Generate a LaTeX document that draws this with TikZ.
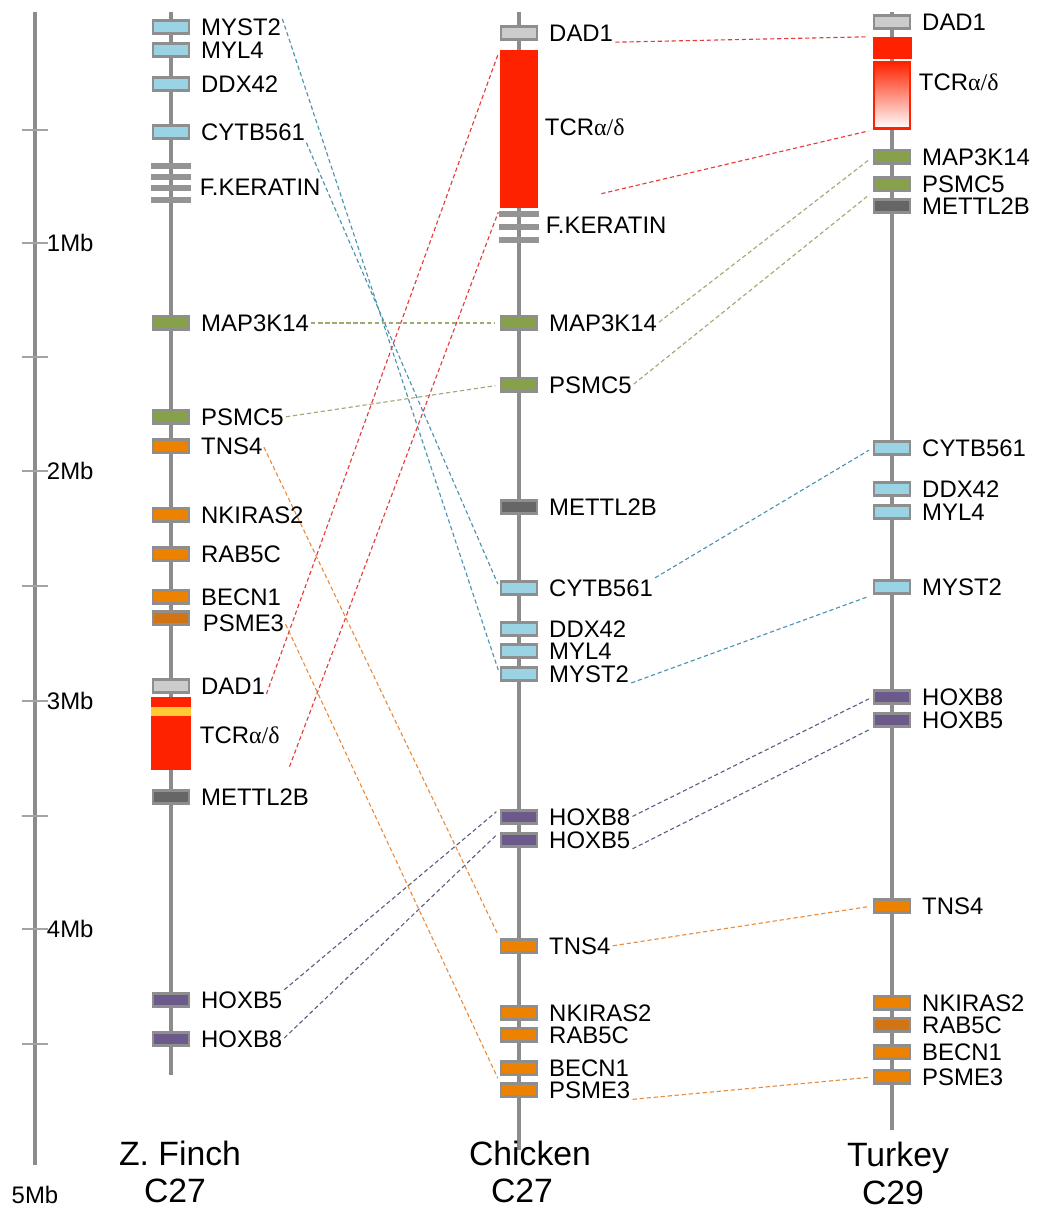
\documentclass[tikz,border=0pt]{standalone}
\usepackage{fontspec}
\setmainfont{Liberation Sans}
\newfontfamily\greekserif{Liberation Serif}
\usetikzlibrary{positioning}

\definecolor{axisgray}{HTML}{8C8C8C}
\definecolor{boxgray}{HTML}{8E8E8E}
\definecolor{gblue}{HTML}{9AD3E4}
\definecolor{ggreen}{HTML}{87A04A}
\definecolor{gorange}{HTML}{EC8200}
\definecolor{gdkorange}{HTML}{D37414}
\definecolor{gpurple}{HTML}{6C5A8C}
\definecolor{gdark}{HTML}{666666}
\definecolor{glight}{HTML}{CCCCCC}
\definecolor{tcred}{HTML}{FF2200}
\definecolor{tcyellow}{HTML}{FFC933}
\definecolor{lblue}{HTML}{4A92AE}
\definecolor{lred}{HTML}{E43B3B}
\definecolor{lgreen}{HTML}{9DAA70}
\definecolor{lorange}{HTML}{EA8C3E}
\definecolor{lpurple}{HTML}{5E5E86}

\tikzset{
  chrom/.style={line width=2.8pt, color=axisgray},
  tickmark/.style={line width=1pt, color=axisgray!80},
  gene/.style={draw=boxgray, line width=2pt, minimum width=0.9cm, minimum height=0.33cm, inner sep=0pt},
  kbar/.style={fill=boxgray!95, minimum width=0.975cm, minimum height=0.15cm, inner sep=0pt},
  tcr/.style={fill=tcred, minimum width=0.975cm, inner sep=0pt},
  glabel/.style={inner sep=0.5pt, anchor=west, font=\fontsize{17}{19}\selectfont},
  species/.style={inner sep=0pt, font=\fontsize{24}{28}\selectfont},
  lnk/.style={draw=#1, line width=0.8pt, dash pattern=on 3pt off 2pt, shorten >=3pt, shorten <=1pt}
}

\begin{document}
\begin{tikzpicture}[x=0.025cm, y=-0.025cm]
\useasboundingbox (0,0) rectangle (1039,1213);

% scale bar
\draw[chrom] (35,12) -- (35,1165);
\foreach \y in {130,243,357,471,586,701,816,929,1044}
  \draw[tickmark] (22,\y) -- (48,\y);
\foreach \y/\t in {243/1Mb,471/2Mb,701/3Mb,929/4Mb}
  \node[glabel] (s\t) at (46,\y) {\t};
\node[glabel, anchor=center] (s5Mb) at (35,1195) {5Mb};

% chromosomes
\draw[chrom] (171,12) -- (171,1075);
\draw[chrom] (519,12) -- (519,1150);
\draw[chrom] (892,12) -- (892,1130);

% zebra finch
\foreach \n/\y/\c in {MYST2/27/gblue, MYL4/50/gblue, DDX42/84/gblue, CYTB561/132/gblue,
  MAP3K14/323/ggreen, PSMC5/417/ggreen, TNS4/446/gorange, NKIRAS2/515/gorange,
  RAB5C/554/gorange, BECN1/597/gorange, DAD1/686/glight,
  METTL2B/797/gdark, HOXB5/1000/gpurple, HOXB8/1039/gpurple}{
  \node[gene, fill=\c] (f\n) at (171,\y) {};
  \node[glabel, right=7pt of f\n] (f\n-l) {\n};
}
\node[gene, fill=gdkorange] (fPSME3) at (171,618) {};
\node[glabel] (fPSME3-l) at (202,623) {PSME3};
\foreach \i/\y in {1/166,2/177,3/188,4/200}
  \node[kbar] (fK\i) at (171,\y) {};
\node[glabel] (fK-l) at (199,187) {F.KERATIN};
\node[tcr, minimum height=1.825cm] (fTCR) at (171,733.5) {};
\node[fill=tcyellow, minimum width=0.975cm, minimum height=0.22cm, inner sep=0pt] (fTCRband) at (171,711.5) {};
\node[glabel] (fTCR-l) at (199,735) {TCR{\greekserif α/δ}};
\coordinate (fTCRlow) at (289,768);

% chicken
\foreach \n/\y/\c in {DAD1/33/glight, MAP3K14/323/ggreen, PSMC5/385/ggreen, METTL2B/507/gdark,
  CYTB561/588/gblue, DDX42/629/gblue, MYL4/651/gblue, MYST2/674/gblue,
  HOXB8/817/gpurple, HOXB5/840/gpurple, TNS4/946/gorange, NKIRAS2/1013/gorange,
  RAB5C/1035/gorange, BECN1/1068/gorange, PSME3/1090/gorange}{
  \node[gene, fill=\c] (c\n) at (519,\y) {};
  \node[glabel, right=7pt of c\n] (c\n-l) {\n};
}
\node[tcr, minimum width=0.95cm, minimum height=3.95cm] (cTCR) at (519,129) {};
\node[glabel] (cTCR-l) at (544,127) {TCR{\greekserif α/δ}};
\foreach \i/\y in {1/214,2/227,3/240}
  \node[kbar] (cK\i) at (519,\y) {};
\node[glabel] (cK-l) at (545,225) {F.KERATIN};
\coordinate (cTCRlow) at (600,194);

% turkey
\foreach \n/\y/\c in {DAD1/22/glight, MAP3K14/157/ggreen, PSMC5/184/ggreen, METTL2B/206/gdark,
  CYTB561/448/gblue, DDX42/489/gblue, MYL4/512/gblue, MYST2/587/gblue,
  HOXB8/697/gpurple, HOXB5/720/gpurple, TNS4/906/gorange, NKIRAS2/1003/gorange,
  RAB5C/1025/gdkorange, BECN1/1052/gorange, PSME3/1077/gorange}{
  \node[gene, fill=\c] (t\n) at (892,\y) {};
  \node[glabel, right=7pt of t\n] (t\n-l) {\n};
}
\node[tcr, minimum height=0.55cm] (tTCRa) at (892,48) {};
\node[draw=tcred, line width=1.8pt, top color=tcred, bottom color=white, minimum width=0.91cm,
  minimum height=1.66cm, inner sep=0pt] (tTCRb) at (892,95.5) {};
\node[glabel] (tTCR-l) at (918,82) {TCR{\greekserif α/δ}};

% species
\node[species] (fName) at (180,1153) {Z. Finch};
\node[species] (fChr) at (175,1191) {C27};
\node[species] (cName) at (530,1153) {Chicken};
\node[species] (cChr) at (522,1191) {C27};
\node[species] (tName) at (898,1158) {Turkey};
\node[species] (tChr) at (893,1193) {C29};

% finch to chicken
\draw[lnk=lblue] (fMYST2-l.north east) -- (cMYST2.west);
\draw[lnk=lblue] (fCYTB561-l.south east) -- (cCYTB561.west);
\draw[lnk=lgreen] (fMAP3K14-l.east) -- (cMAP3K14.west);
\draw[lnk=lgreen] (fPSMC5-l.east) -- (cPSMC5.west);
\draw[lnk=lred] (fDAD1-l.south east) -- (cTCR.north west);
\draw[lnk=lred] (fTCRlow) -- (cTCR.south west);
\draw[lnk=lorange] (fTNS4-l.east) -- (cTNS4.north west);
\draw[lnk=lorange] (fPSME3-l.east) -- (cPSME3.north west);
\draw[lnk=lpurple] (fHOXB5-l.north east) -- (cHOXB8.north west);
\draw[lnk=lpurple] (fHOXB8-l.east) -- (cHOXB5.north west);

% chicken to turkey
\draw[lnk=lred] (cDAD1-l.south east) -- (tTCRa.north west);
\draw[lnk=lred] (cTCRlow) -- (tTCRb.south west);
\draw[lnk=lgreen] (cMAP3K14-l.east) -- (tMAP3K14.west);
\draw[lnk=lgreen] (cPSMC5-l.east) -- (tPSMC5.south west);
\draw[lnk=lblue] (cCYTB561-l.north east) -- (tCYTB561.west);
\draw[lnk=lblue] (cMYST2-l.south east) -- (tMYST2.south west);
\draw[lnk=lpurple] (cHOXB8-l.east) -- (tHOXB8.west);
\draw[lnk=lpurple] (cHOXB5-l.south east) -- (tHOXB5.south west);
\draw[lnk=lorange] (cTNS4-l.east) -- (tTNS4.west);
\draw[lnk=lorange] (cPSME3-l.south east) -- (tPSME3.west);

\end{tikzpicture}
\end{document}
